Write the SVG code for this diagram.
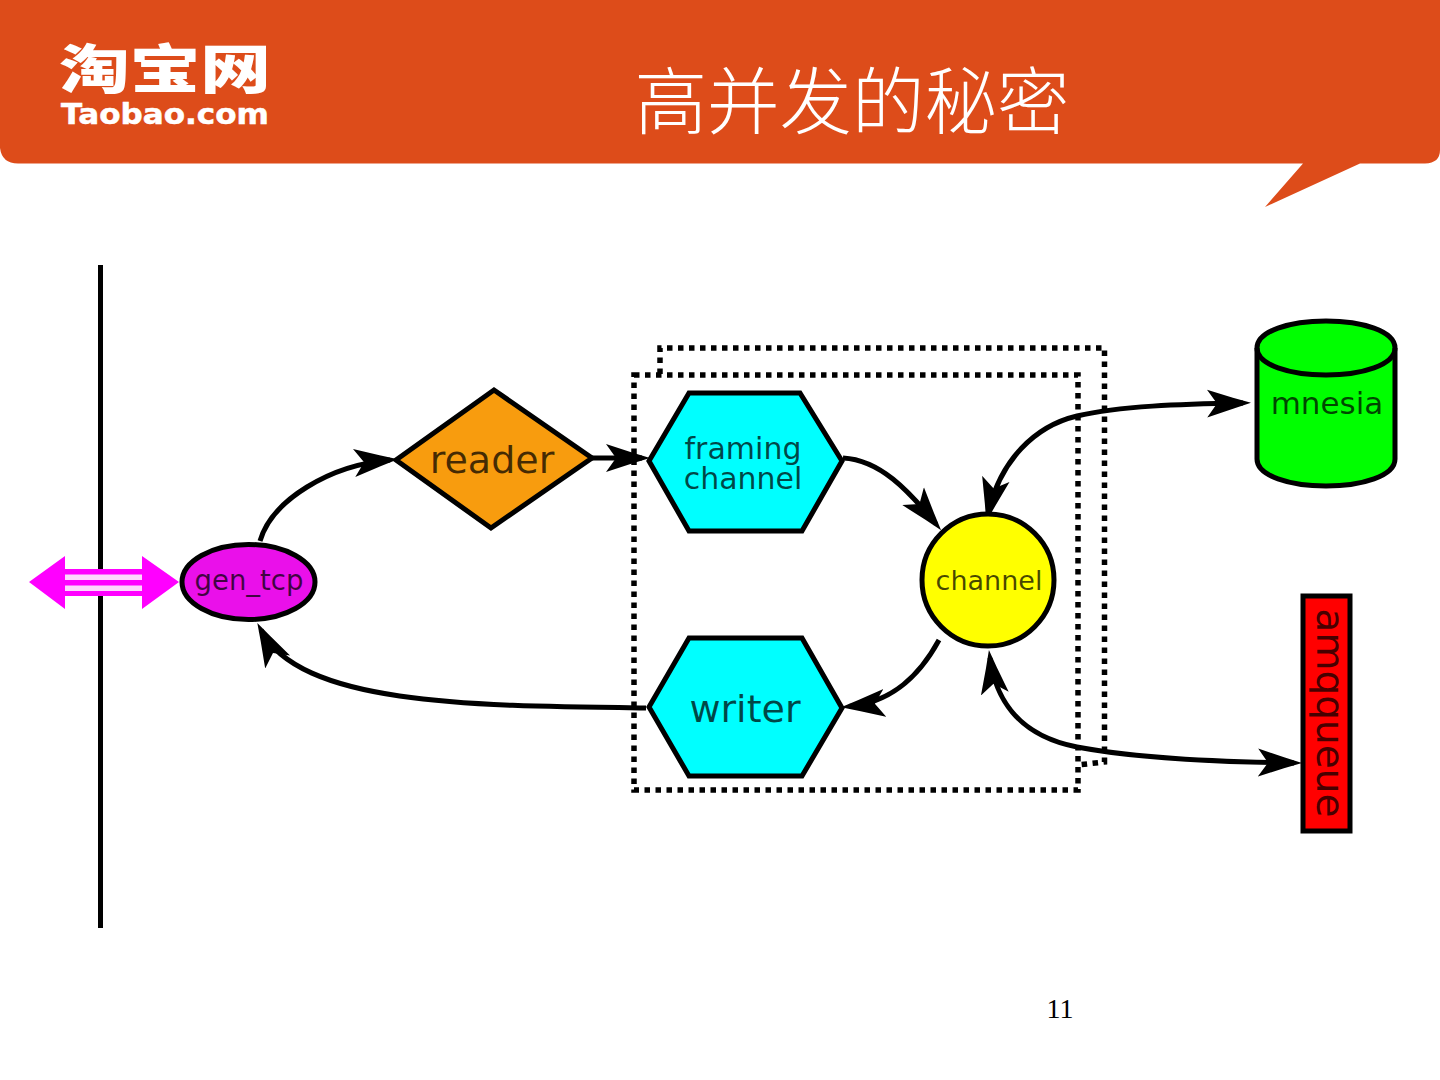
<svg xmlns="http://www.w3.org/2000/svg" width="1440" height="1080" viewBox="0 0 1440 1080">
<defs>
<marker id="ah" viewBox="0 0 44 30" refX="36" refY="15" markerUnits="userSpaceOnUse" markerWidth="44" markerHeight="30" orient="auto-start-reverse"><path d="M0 1L26 9.500L44 15L26 20.500L0 29L10 15Z" fill="#000"/></marker>
</defs>
<style>
.n{stroke:#000;stroke-width:5;stroke-linejoin:miter}
.t{font-family:"DejaVu Sans",sans-serif;fill:#000;fill-opacity:.72;text-anchor:middle}
.c{fill:none;stroke:#000;stroke-width:5}
.d{fill:none;stroke:#000;stroke-width:5.500;stroke-dasharray:5.500 5.500}
</style>
<rect width="1440" height="1080" fill="#fff"/>
<g id="banner">
<path d="M0 0H1440V150Q1440 163 1425 163.500H1360L1265 207L1303 163.500H18Q2 163.500 0 148Z" fill="#dd4c1a"/>
<text x="165" y="89" font-family="'Noto Sans CJK SC',sans-serif" font-weight="900" font-size="53" fill="#fff" text-anchor="middle" textLength="212" lengthAdjust="spacingAndGlyphs">淘宝网</text>
<text x="165" y="124" font-family="'DejaVu Sans',sans-serif" font-weight="700" font-size="28" fill="#fff" stroke="#fff" stroke-width=".5" text-anchor="middle" textLength="208" lengthAdjust="spacingAndGlyphs">Taobao.com</text>
<text x="852" y="128" font-family="'Noto Sans CJK SC',sans-serif" font-weight="300" font-size="72.500" fill="#fff" text-anchor="middle">高并发的秘密</text>
</g>
<g id="boundary"><line x1="100.500" y1="265" x2="100.500" y2="928" stroke="#000" stroke-width="5"/></g>
<g id="boxes">
<path class="d" d="M660 374V348H1104.500V762L1078 765"/>
<rect class="d" x="634" y="375" width="444" height="415"/>
</g>
<g id="connectors">
<path class="c" d="M260 541C272 500 330 465 390 460" marker-end="url(#ah)"/>
<path class="c" d="M592 458H642" marker-end="url(#ah)"/>
<path class="c" d="M843 458C880 460 908 490 936 524" marker-end="url(#ah)"/>
<path class="c" d="M939 640C920 675 893 702 849 706.500" marker-end="url(#ah)"/>
<path class="c" d="M646 708C470 706 300 705 261 630" marker-end="url(#ah)"/>
<path class="c" d="M1243 403C1180 404 1120 406 1077 416C1035 426 1000 460 988 514" marker-start="url(#ah)" marker-end="url(#ah)"/>
<path class="c" d="M990 658C995 695 1015 735 1077 747C1140 759 1220 762 1294 763" marker-start="url(#ah)" marker-end="url(#ah)"/>
</g>
<g id="bidir">
<path d="M29 582L65 556V569H142V556L179 582L142 609V596H65V609Z" fill="#ff00ff"/>
<rect x="65" y="574.500" width="77" height="5.500" fill="#fdd8fd"/>
<rect x="65" y="585.500" width="77" height="5.500" fill="#fdd8fd"/>
</g>
<g id="gen_tcp">
<ellipse class="n" cx="248.500" cy="582" rx="66.500" ry="37.500" fill="#ea10ea"/>
<text class="t" x="249" y="590" font-size="27.500">gen_tcp</text>
</g>
<g id="reader">
<path class="n" d="M494 390L592 458L491 528L396 460Z" fill="#f89c0e"/>
<text class="t" x="492" y="473" font-size="38">reader</text>
</g>
<g id="framing">
<path class="n" d="M689 393H800L842 461L802 531H689L649 461Z" fill="#00ffff"/>
<text class="t" font-size="30"><tspan x="743" y="459">framing</tspan><tspan x="743" y="489">channel</tspan></text>
</g>
<g id="writer">
<path class="n" d="M689 638H802L842 708L802 776H689L649 707Z" fill="#00ffff"/>
<text class="t" x="745" y="722" font-size="38">writer</text>
</g>
<g id="channel">
<circle class="n" cx="988" cy="580" r="66" fill="#ffff00"/>
<text class="t" x="989" y="590" font-size="27">channel</text>
</g>
<g id="mnesia">
<path class="n" d="M1257 348V459C1257 476 1290 486 1326 486C1362 486 1395 476 1395 459V348C1395 331 1362 321 1326 321C1290 321 1257 331 1257 348Z" fill="#00ff00"/>
<path class="n" d="M1257 348C1257 365 1290 375 1326 375C1362 375 1395 365 1395 348" fill="none"/>
<text class="t" x="1327" y="414" font-size="31">mnesia</text>
</g>
<g id="amqqueue">
<rect class="n" x="1303" y="596" width="47" height="235" fill="#ff0000"/>
<text class="t" transform="translate(1317 713) rotate(90)" font-size="39">amqqueue</text>
</g>
<text id="page" x="1060" y="1018" font-family="'Liberation Serif',serif" font-size="28" fill="#000" text-anchor="middle">11</text>
</svg>
